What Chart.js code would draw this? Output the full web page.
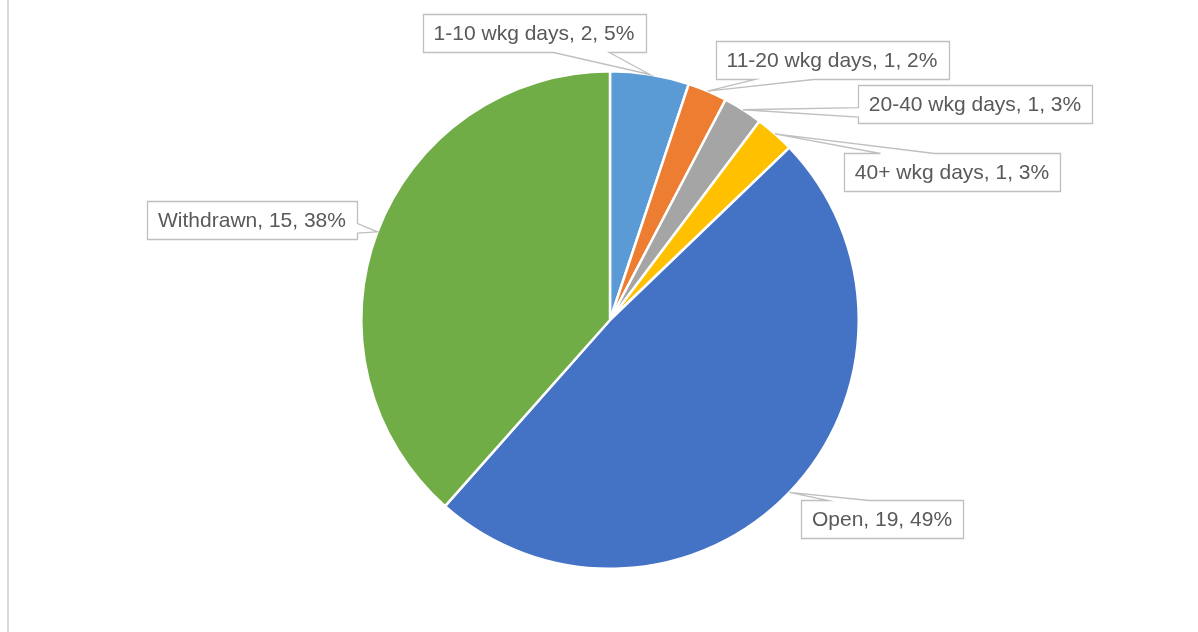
<!DOCTYPE html>
<html>
<head>
<meta charset="utf-8">
<script src="https://cdn.jsdelivr.net/npm/chart.js@4"></script>
<style>
  html, body { margin: 0; padding: 0; background: #fff; }
  #wrap { position: relative; width: 1198px; height: 632px; }
</style>
</head>
<body>
<div id="wrap"><canvas id="pieChart"></canvas></div>
<script>
// datos del grafico
const categorias = ['1-10 wkg days', '11-20 wkg days', '20-40 wkg days', '40+ wkg days', 'Open', 'Withdrawn'];
const valores = [2, 1, 1, 1, 19, 15];
const porcentajes = [5, 2, 3, 3, 49, 38]; // tal como aparecen en las etiquetas
const colores = ['#5B9BD5', '#ED7D31', '#A5A5A5', '#FFC000', '#4472C4', '#70AD47'];

// centro de cada caja de etiqueta (posicion en pixeles)
const cajasEtiquetas = [[534, 33], [832, 60], [975, 104], [952, 172], [882, 519], [252, 220]];

// linea gris a la izquierda
const bordeIzq = {
    id: 'bordeIzq',
    beforeDraw(chart) {
        const ctx = chart.ctx;
        ctx.save();
        ctx.strokeStyle = '#d9d9d9';
        ctx.lineWidth = 2;
        ctx.beginPath();
        ctx.moveTo(8, 0);
        ctx.lineTo(8, chart.height);
        ctx.stroke();
        ctx.restore();
    }
};

// etiquetas tipo "callout" de Excel
const etiquetasCallout = {
    id: 'etiquetasCallout',
    afterDraw(chart) {
        const ctx = chart.ctx;
        const arcs = chart.getDatasetMeta(0).data;
        ctx.save();
        ctx.font = '21px "Liberation Sans", Arial, sans-serif';
        ctx.textBaseline = 'middle';
        ctx.textAlign = 'center';
        arcs.forEach((arc, i) => {
            const p = arc.getProps(['x', 'y', 'startAngle', 'endAngle', 'outerRadius'], true);
            const mid = (p.startAngle + p.endAngle) / 2;
            const tx = p.x + Math.cos(mid) * p.outerRadius;
            const ty = p.y + Math.sin(mid) * p.outerRadius;

            const texto = `${categorias[i]}, ${valores[i]}, ${porcentajes[i]}%`;
            const w = Math.round(ctx.measureText(texto).width) + 22;
            const h = 38;
            const cx = cajasEtiquetas[i][0], cy = cajasEtiquetas[i][1];
            const l = Math.round(cx - w / 2) + 0.5, t = Math.round(cy - h / 2) + 0.5;
            const r = l + w, b = t + h;

            // lado de la cola
            const dx = (tx - cx) / (w / 2), dy = (ty - cy) / (h / 2);
            let path;
            if (Math.abs(dy) >= Math.abs(dx)) {
                const a = dx < 0 ? 2 / 12 : 7 / 12, c = dx < 0 ? 5 / 12 : 10 / 12;
                if (dy < 0) {
                    path = [[l, t], [l + w * a, t], [tx, ty], [l + w * c, t], [r, t], [r, b], [l, b]];
                } else {
                    path = [[l, t], [r, t], [r, b], [l + w * c, b], [tx, ty], [l + w * a, b], [l, b]];
                }
            } else {
                const a = dy < 0 ? 2 / 12 : 7 / 12, c = dy < 0 ? 5 / 12 : 10 / 12;
                if (dx > 0) {
                    path = [[l, t], [r, t], [r, t + h * a], [tx, ty], [r, t + h * c], [r, b], [l, b]];
                } else {
                    path = [[l, t], [r, t], [r, b], [l, b], [l, t + h * c], [tx, ty], [l, t + h * a]];
                }
            }
            ctx.beginPath();
            path.forEach((pt, k) => k === 0 ? ctx.moveTo(pt[0], pt[1]) : ctx.lineTo(pt[0], pt[1]));
            ctx.closePath();
            ctx.fillStyle = '#ffffff';
            ctx.fill();
            ctx.strokeStyle = '#bfbfbf';
            ctx.lineWidth = 1.3;
            ctx.stroke();

            ctx.fillStyle = '#595959';
            ctx.fillText(texto, cx, cy + 1);
        });
        ctx.restore();
    }
};

const ctxPie = document.getElementById('pieChart');
const chart = new Chart(ctxPie, {
    type: 'pie',
    data: {
        labels: categorias,
        datasets: [{
            data: valores,
            backgroundColor: colores,
            borderColor: '#ffffff',
            borderWidth: 2.5
        }]
    },
    options: {
        responsive: true,
        maintainAspectRatio: false,
        animation: false,
        layout: {
            padding: { left: 360, right: 338, top: 70, bottom: 62 }
        },
        plugins: {
            legend: { display: false },
            tooltip: { enabled: false }
        }
    },
    plugins: [bordeIzq, etiquetasCallout]
});
</script>
</body>
</html>
